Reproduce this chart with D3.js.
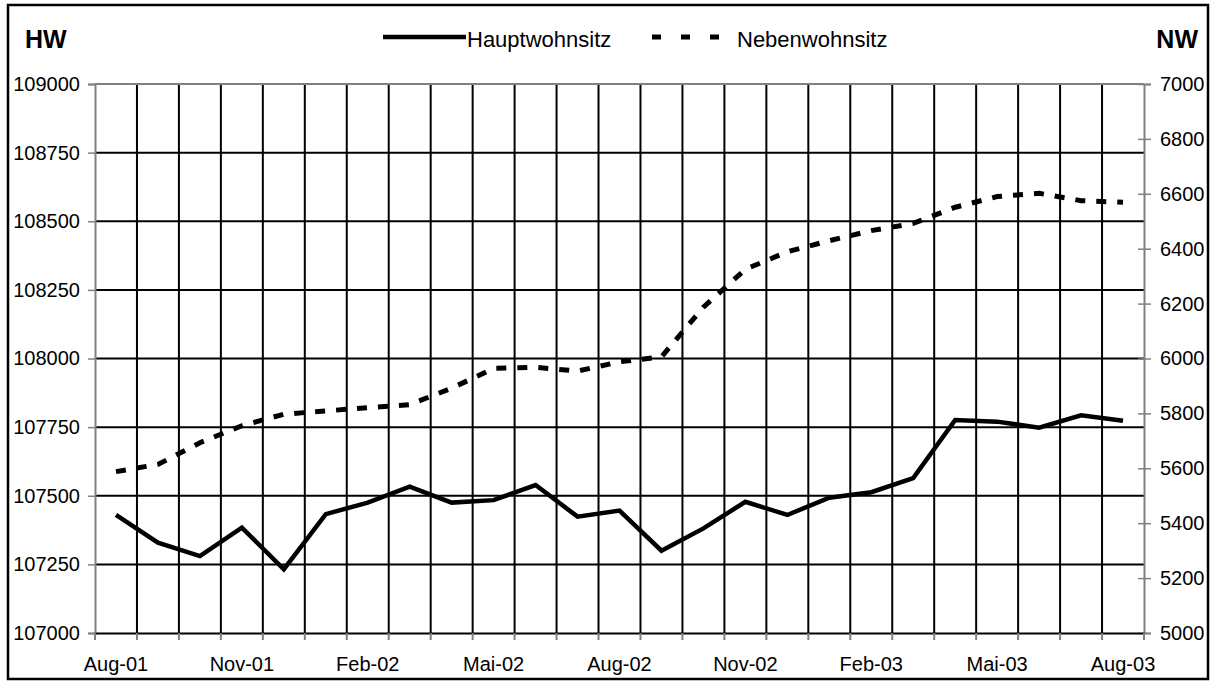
<!DOCTYPE html>
<html>
<head>
	<title>Haupt- und Nebenwohnsitz</title>
	<script src="https://d3js.org/d3.v7.min.js" charset="utf-8"></script>
	<style>
		body { margin: 0; background: #fff; }
		text { font-family: "Liberation Sans", Arial, sans-serif; fill: #000; }
	</style>
</head>
<body>
	<svg width="1217" height="683"></svg>
	<script>
		// months Aug-01 .. Aug-03
		var months = ['Aug-01','Sep-01','Okt-01','Nov-01','Dez-01','Jan-02','Feb-02','Mrz-02','Apr-02','Mai-02',
			'Jun-02','Jul-02','Aug-02','Sep-02','Okt-02','Nov-02','Dez-02','Jan-03','Feb-03','Mrz-03',
			'Apr-03','Mai-03','Jun-03','Jul-03','Aug-03'];
		var shownLabels = ['Aug-01','Nov-01','Feb-02','Mai-02','Aug-02','Nov-02','Feb-03','Mai-03','Aug-03'];
		var hauptwohnsitz = [107430,107329,107280,107384,107232,107433,107475,107533,107475,107484,
			107539,107424,107446,107300,107381,107478,107430,107493,107513,107564,
			107776,107770,107748,107793,107773];
		var nebenwohnsitz = [5588,5614,5693,5755,5797,5809,5821,5832,5892,5964,
			5968,5954,5988,6006,6187,6325,6389,6429,6466,6492,
			6551,6590,6602,6575,6569];
		var hwTicks = [107000,107250,107500,107750,108000,108250,108500,108750,109000];
		var nwTicks = [5000,5200,5400,5600,5800,6000,6200,6400,6600,6800,7000];

		const plotLeft = 95, plotRight = 1144, plotTop = 84, plotBottom = 633;
		var svg = d3.select('svg');

		// outer frame
		svg.append('rect')
			.attr('x', 8).attr('y', 5).attr('width', 1200).attr('height', 674)
			.attr('fill', 'none').attr('stroke', '#000').attr('stroke-width', 2.5);

		const x = d3.scaleBand().domain(months).range([plotLeft, plotRight]).padding(0);
		const yL = d3.scaleLinear().domain([107000, 109000]).range([plotBottom, plotTop]);
		const yR = d3.scaleLinear().domain([5000, 7000]).range([plotBottom, plotTop]);

		// gridlines
		var bounds = months.map(function(m) { return x(m); }).concat([plotRight]);
		svg.append('g').selectAll('line')
			.data(hwTicks.slice(1, -1))
			.enter().append('line')
			.attr('x1', plotLeft).attr('x2', plotRight)
			.attr('y1', d => yL(d)).attr('y2', d => yL(d))
			.attr('stroke', '#000').attr('stroke-width', 2);
		svg.append('g').selectAll('line')
			.data(bounds.slice(1, -1))
			.enter().append('line')
			.attr('x1', d => d).attr('x2', d => d)
			.attr('y1', plotTop).attr('y2', plotBottom)
			.attr('stroke', '#000').attr('stroke-width', 2);

		// plot area top edge (gray)
		svg.append('line').attr('x1', plotLeft).attr('x2', plotRight).attr('y1', plotTop).attr('y2', plotTop)
			.attr('stroke', '#808080').attr('stroke-width', 2);

		// left axis
		const leftAxis = svg.append('g')
			.attr('transform', `translate(${plotLeft},0)`)
			.call(d3.axisLeft(yL).tickValues(hwTicks).tickSize(7).tickPadding(8).tickFormat(d3.format('d')));
		// right axis
		const rightAxis = svg.append('g')
			.attr('transform', `translate(${plotRight},0)`)
			.call(d3.axisRight(yR).tickValues(nwTicks).tickSize(7).tickPadding(9).tickFormat(d3.format('d')));
		rightAxis.selectAll('.tick line').attr('x1', -6);
		// bottom axis: ticks at month boundaries, labels every 3rd month
		const bottomAxis = svg.append('g')
			.attr('transform', `translate(0,${plotBottom})`)
			.call(d3.axisBottom(x).tickValues(shownLabels).tickSize(0).tickPadding(24));
		svg.append('g').selectAll('line')
			.data(bounds)
			.enter().append('line')
			.attr('x1', d => d).attr('x2', d => d)
			.attr('y1', plotBottom).attr('y2', plotBottom + 7)
			.attr('stroke', '#808080').attr('stroke-width', 2);

		[leftAxis, rightAxis].forEach(function(a) {
			a.select('.domain').attr('stroke', '#808080').attr('stroke-width', 2);
			a.selectAll('.tick line').attr('stroke', '#808080').attr('stroke-width', 1.5);
		});
		bottomAxis.select('.domain').attr('stroke', '#000').attr('stroke-width', 2);
		svg.selectAll('.tick text').style('font-size', '20px')
			.style('font-family', '"Liberation Sans", Arial, sans-serif');

		// series
		const cx = d => x(d) + x.bandwidth() / 2;
		const lineHW = d3.line().x((d, i) => cx(months[i])).y(d => yL(d));
		const lineNW = d3.line().x((d, i) => cx(months[i])).y(d => yR(d));

		svg.append('path').datum(nebenwohnsitz)
			.attr('d', lineNW).attr('fill', 'none')
			.attr('stroke', '#000').attr('stroke-width', 5)
			.attr('stroke-dasharray', '10,11');
		svg.append('path').datum(hauptwohnsitz)
			.attr('d', lineHW).attr('fill', 'none')
			.attr('stroke', '#000').attr('stroke-width', 4.5)
			.attr('stroke-linejoin', 'miter');

		// axis titles
		svg.append('text').attr('x', 25).attr('y', 48)
			.style('font-size', '25px').style('font-weight', 'bold').text('HW');
		svg.append('text').attr('x', 1198).attr('y', 48).attr('text-anchor', 'end')
			.style('font-size', '25px').style('font-weight', 'bold').text('NW');

		// legend
		svg.append('line').attr('x1', 383).attr('x2', 466).attr('y1', 37).attr('y2', 37)
			.attr('stroke', '#000').attr('stroke-width', 4.5);
		svg.append('text').attr('x', 467).attr('y', 47).style('font-size', '22px').text('Hauptwohnsitz');
		svg.append('line').attr('x1', 652).attr('x2', 720).attr('y1', 37).attr('y2', 37)
			.attr('stroke', '#000').attr('stroke-width', 5).attr('stroke-dasharray', '9,20');
		svg.append('text').attr('x', 737).attr('y', 47).style('font-size', '22px').text('Nebenwohnsitz');
	</script>
</body>
</html>
